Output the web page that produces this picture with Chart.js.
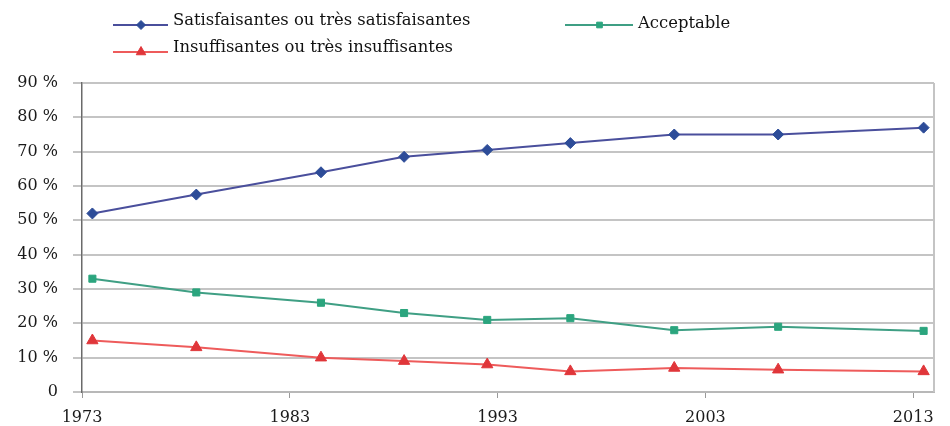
<!DOCTYPE html>
<html>
<head>
<meta charset="utf-8">
<script src="https://cdn.jsdelivr.net/npm/chart.js@4.4.1/dist/chart.umd.min.js"></script>
<style>
  html, body { margin: 0; padding: 0; background: #ffffff; }
  #wrap { width: 950px; height: 426px; position: relative; }
</style>
</head>
<body>
<div id="wrap"><canvas id="c" width="950" height="426"></canvas></div>
<script>
// Survey years and shares of answers (%)
const surveyYears = [1973, 1978, 1984, 1988, 1992, 1996, 2001, 2006, 2013];
const satisfaisantes = [52, 57.5, 64, 68.5, 70.5, 72.5, 75, 75, 77];
const acceptable = [33, 29, 26, 23, 21, 21.5, 18, 19, 17.8];
const insuffisantes = [15, 13, 10, 9, 8, 6, 7, 6.5, 6];

const seriesLabels = [
  'Satisfaisantes ou très satisfaisantes',
  'Acceptable',
  'Insuffisantes ou très insuffisantes'
];
const xTickYears = [1973, 1983, 1993, 2003, 2013];
const yTickValues = [0, 10, 20, 30, 40, 50, 60, 70, 80, 90];

// each survey is plotted in the middle of its year
const toPoints = vals => vals.map((v, i) => ({ x: surveyYears[i] + 0.5, y: v }));

const styles = [
  { line: '#4a4f9c', point: '#2d4c98', pointStyle: 'rectRot', radius: 5.5 },
  { line: '#3f9f84', point: '#2ba57e', pointStyle: 'rect', radius: 5 },
  { line: '#ee5b5b', point: '#e0363a', pointStyle: 'triangle', radius: 6.5 }
];

const datasets = [satisfaisantes, acceptable, insuffisantes].map((vals, i) => ({
  label: seriesLabels[i],
  data: toPoints(vals),
  borderColor: styles[i].line,
  borderWidth: 2,
  backgroundColor: styles[i].point,
  pointBackgroundColor: styles[i].point,
  pointBorderColor: styles[i].point,
  pointBorderWidth: 1,
  pointStyle: styles[i].pointStyle,
  pointRadius: styles[i].radius,
  tension: 0
}));

// Legend drawn above the plot: sample line with marker, then the label
const legendItems = [
  { ds: 0, x: 113, y: 25, textY: 21 },
  { ds: 1, x: 565, y: 25, textY: 24 },
  { ds: 2, x: 113, y: 52, textY: 48 }
];

const frameAndLegend = {
  id: 'frameAndLegend',
  beforeDatasetsDraw(chart) {
    const { ctx, chartArea } = chart;
    ctx.save();
    ctx.strokeStyle = '#c4c4c4';
    ctx.lineWidth = 2;
    ctx.beginPath();
    ctx.moveTo(chartArea.right, chartArea.top);
    ctx.lineTo(chartArea.right, chartArea.bottom);
    ctx.stroke();
    ctx.restore();
  },
  afterDraw(chart) {
    const { ctx } = chart;
    legendItems.forEach(item => {
      const st = styles[item.ds];
      const len = item.ds === 1 ? 68 : 55;
      ctx.save();
      ctx.strokeStyle = st.line;
      ctx.lineWidth = 2;
      ctx.beginPath();
      ctx.moveTo(item.x, item.y);
      ctx.lineTo(item.x + len, item.y);
      ctx.stroke();
      ctx.fillStyle = st.point;
      ctx.strokeStyle = st.point;
      ctx.lineWidth = 1;
      Chart.helpers.drawPoint(ctx, {
        pointStyle: st.pointStyle,
        radius: st.radius - 1,
        rotation: 0,
        borderWidth: 1
      }, item.x + len / 2 + 0.5, item.y);
      ctx.restore();

      ctx.save();
      ctx.fillStyle = '#111111';
      ctx.font = '16.4px "DejaVu Serif", serif';
      ctx.textBaseline = 'middle';
      ctx.fillText(seriesLabels[item.ds], item.x + len + 5, item.textY);
      ctx.restore();
    });
  }
};

new Chart(document.getElementById('c'), {
  type: 'line',
  data: { datasets },
  options: {
    responsive: false,
    animation: false,
    layout: { padding: { top: 83, right: 16, left: 0, bottom: 0 } },
    plugins: {
      legend: { display: false },
      tooltip: { enabled: false }
    },
    scales: {
      x: {
        type: 'linear',
        min: 1973,
        max: 2014,
        afterBuildTicks: scale => { scale.ticks = xTickYears.map(v => ({ value: v })); },
        afterFit: scale => { scale.height = 34; },
        grid: { drawOnChartArea: false, drawTicks: true, tickLength: 6, color: '#9a9a9a', lineWidth: 1 },
        border: { display: true, color: '#b8b8b8', width: 2 },
        ticks: {
          color: '#1a1a1a',
          padding: 10,
          maxRotation: 0,
          font: { family: '"DejaVu Serif", serif', size: 16 },
          callback: v => String(v)
        }
      },
      y: {
        min: 0,
        max: 90,
        afterBuildTicks: scale => { scale.ticks = yTickValues.map(v => ({ value: v })); },
        afterFit: scale => { scale.width = 82; },
        grid: { color: '#c4c4c4', lineWidth: 2, tickLength: 9, drawTicks: true },
        border: { display: true, color: '#6a6a6a', width: 1.5 },
        ticks: {
          color: '#1a1a1a',
          padding: 15,
          font: { family: '"DejaVu Serif", serif', size: 16 },
          callback: v => (v === 0 ? '0' : v + ' %')
        }
      }
    }
  },
  plugins: [frameAndLegend]
});
</script>
</body>
</html>
